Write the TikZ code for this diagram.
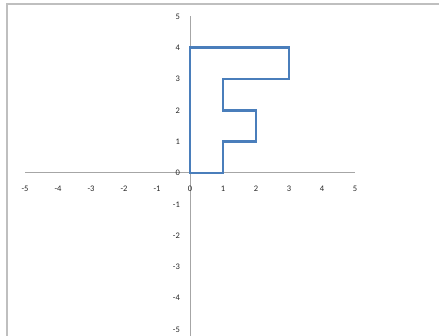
\documentclass[tikz,border=0pt]{standalone}
\usepackage{fontspec}
\setmainfont{Carlito}
\definecolor{axisgray}{HTML}{A6A6A6}
\definecolor{framegray}{HTML}{BFBFBF}
\definecolor{fblue}{HTML}{4A7EBB}
\tikzset{
  axisline/.style={draw=axisgray, line width=1pt},
  frameline/.style={draw=framegray, line width=1.4pt},
  fshape/.style={draw=fblue, line width=2.6pt, line join=miter},
  lbl/.style={font=\fontsize{8.5}{9}\selectfont, text=black!85, inner sep=0pt}
}
\begin{document}
\begin{tikzpicture}[x=1pt,y=1pt]
\useasboundingbox (0,0) rectangle (439,336);
% frame
\draw[frameline] (7,0) -- (7,332) -- (439,332);
\begin{scope}[shift={(190,163)}, x=33pt, y=31.3pt]
  % axes
  \coordinate (xl) at (-5,0);
  \coordinate (xr) at (5,0);
  \coordinate (yb) at (0,-5.2);
  \coordinate (yt) at (0,5);
  \draw[axisline] (xl) -- (xr);
  \draw[axisline] (yb) -- (yt);
  % F shape
  \draw[fshape] (0,0) -- (0,4) -- (3,4) -- (3,3) -- (1,3) -- (1,2) -- (2,2) -- (2,1) -- (1,1) -- (1,0) -- cycle;
  % x labels
  \foreach \i in {-5,...,5} {
    \node[lbl] (xlab\i) at (\i,-0.5) {\i};
  }
  % y labels
  \foreach \j in {-5,...,5} {
    \node[lbl, anchor=east] (ylab\j) at (-0.3,\j) {\j};
  }
\end{scope}
\end{tikzpicture}
\end{document}
